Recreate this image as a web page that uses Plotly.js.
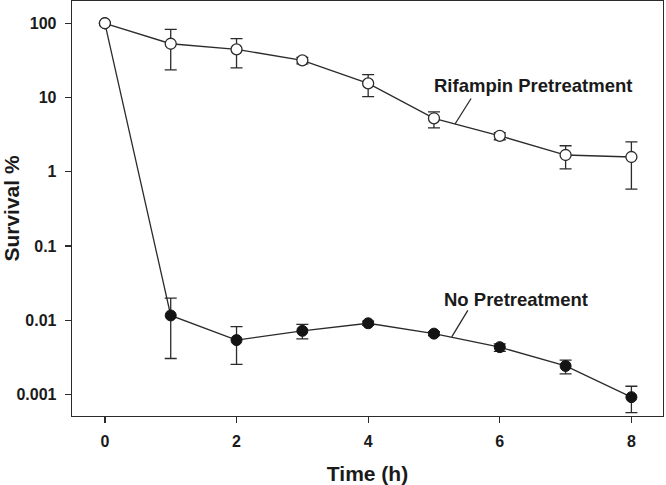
<!DOCTYPE html>
<html>
<head>
<meta charset="utf-8">
<script src="https://cdn.plot.ly/plotly-3.0.1.min.js"></script>
<style>html,body{margin:0;padding:0;background:#fff;}#chart{width:666px;height:485px;}</style>
</head>
<body>
<div id="chart"></div>
<script>
// Time points (h)
var timeH = [0, 1, 2, 3, 4, 5, 6, 7, 8];

// Rifampin pretreatment: survival %, and error bar upper / lower ends
var rifMean  = [100, 53, 44.6, 31.7, 15.5, 5.25, 3.05, 1.68, 1.58];
var rifUpper = [100, 83, 62, 34.8, 20.3, 6.4, 3.36, 2.24, 2.53];
var rifLower = [100, 23.5, 25, 28.3, 10.3, 3.9, 2.7, 1.09, 0.585];

// No pretreatment
var noMean  = [100, 0.0116, 0.0054, 0.0072, 0.0091, 0.0066, 0.00434, 0.00242, 0.00092];
var noUpper = [100, 0.0199, 0.0082, 0.0088, 0.0097, 0.0070, 0.0048, 0.0029, 0.00129];
var noLower = [100, 0.00305, 0.00254, 0.0056, 0.0085, 0.0062, 0.0038, 0.0019, 0.00057];

var yTickVals = [0.001, 0.01, 0.1, 1, 10, 100];
var yTickText = ['0.001', '0.01', '0.1', '1', '10', '100'];
var xTickVals = [0, 2, 4, 6, 8];

var ink = '#2b2b2b';
function diff(a, b) { return a.map(function (v, i) { return Math.max(0, v - b[i]); }); }

var traces = [
  {
    x: timeH, y: noMean, type: 'scatter', mode: 'lines+markers',
    line: {color: ink, width: 1.3},
    marker: {symbol: 'circle', size: 11, color: '#141414', line: {color: '#141414', width: 1}},
    error_y: {type: 'data', symmetric: false, array: diff(noUpper, noMean), arrayminus: diff(noMean, noLower),
              color: ink, thickness: 1.3, width: 6},
    hoverinfo: 'skip'
  },
  {
    x: timeH, y: rifMean, type: 'scatter', mode: 'lines+markers',
    line: {color: ink, width: 1.3},
    marker: {symbol: 'circle', size: 11, color: '#ffffff', line: {color: ink, width: 1.3}},
    error_y: {type: 'data', symmetric: false, array: diff(rifUpper, rifMean), arrayminus: diff(rifMean, rifLower),
              color: ink, thickness: 1.3, width: 6},
    hoverinfo: 'skip'
  }
];

var labelFont = {family: '"Liberation Sans", Arial, sans-serif', size: 18.5, color: '#1a1a1a', weight: 'bold'};

var layout = {
  width: 666, height: 485,
  margin: {l: 72, r: 3, t: 1, b: 69},
  paper_bgcolor: '#ffffff', plot_bgcolor: '#ffffff',
  showlegend: false,
  font: {family: '"Liberation Sans", Arial, sans-serif', color: '#1a1a1a'},
  xaxis: {
    range: [-0.5, 8.48], tickvals: xTickVals, ticks: 'outside', ticklen: 6, tickwidth: 1.2, tickcolor: ink,
    showline: true, linecolor: ink, linewidth: 1.3, mirror: true, showgrid: false, zeroline: false,
    tickfont: {size: 16, weight: 'bold', color: '#1a1a1a'}, ticklabelstandoff: 4,
    title: {text: 'Time (h)', font: {size: 21, weight: 'bold', color: '#1a1a1a'}, standoff: 18}
  },
  yaxis: {
    type: 'log', range: [-3.29, 2.3], tickvals: yTickVals, ticktext: yTickText,
    ticks: 'outside', ticklen: 6, tickwidth: 1.2, tickcolor: ink,
    showline: true, linecolor: ink, linewidth: 1.3, mirror: true, showgrid: false, zeroline: false,
    tickfont: {size: 16, weight: 'bold', color: '#1a1a1a'}, ticklabelstandoff: 5,
    title: {text: 'Survival %', font: {size: 21, weight: 'bold', color: '#1a1a1a'}, standoff: 10}
  },
  annotations: [
    {x: 6.5, y: 1.16, xref: 'x', yref: 'y', text: 'Rifampin Pretreatment', showarrow: false,
     font: labelFont, xanchor: 'center', yanchor: 'middle'},
    {x: 5.32, y: 0.643, xref: 'x', yref: 'y', text: '', showarrow: true, arrowhead: 0,
     arrowwidth: 1.3, arrowcolor: ink, ax: 17, ay: -27, standoff: 0},
    {x: 6.25, y: -1.716, xref: 'x', yref: 'y', text: 'No Pretreatment', showarrow: false,
     font: labelFont, xanchor: 'center', yanchor: 'middle'},
    {x: 5.27, y: -2.224, xref: 'x', yref: 'y', text: '', showarrow: true, arrowhead: 0,
     arrowwidth: 1.3, arrowcolor: ink, ax: 17, ay: -28, standoff: 0}
  ]
};

Plotly.newPlot('chart', traces, layout, {staticPlot: true, displayModeBar: false});
</script>
</body>
</html>
